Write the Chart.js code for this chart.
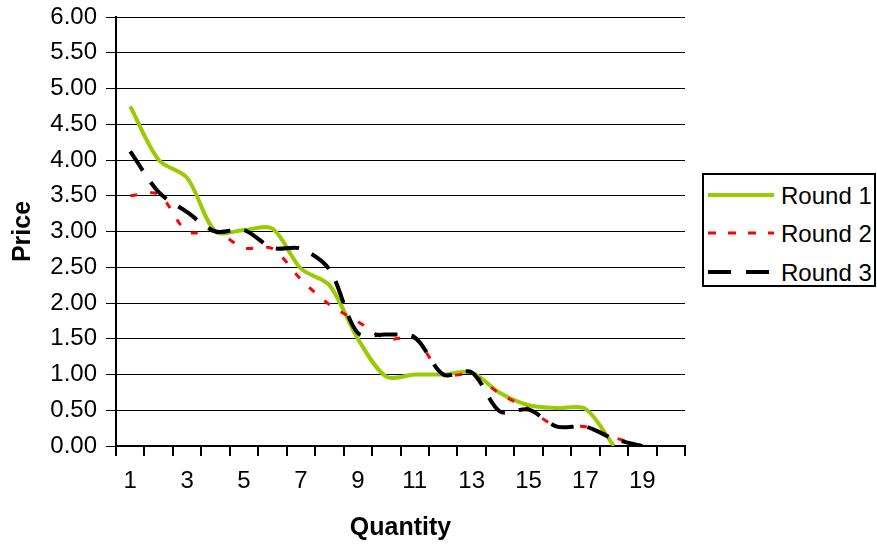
<!DOCTYPE html>
<html>
<head>
<meta charset="utf-8">
<script src="https://cdn.jsdelivr.net/npm/chart.js@4/dist/chart.umd.min.js"></script>
<style>
html,body{margin:0;padding:0;background:#fff;}
#wrap{position:relative;width:877px;height:549px;overflow:hidden;}
#legend{position:absolute;left:702px;top:173px;width:170px;height:110px;border:2px solid #000;background:#fff;font-family:"Liberation Sans",Arial,sans-serif;font-size:24px;color:#000;}
.lg-line{position:absolute;left:4px;width:66px;height:10px;}
.lg-text{position:absolute;left:77px;height:28px;line-height:28px;white-space:nowrap;}
</style>
</head>
<body>
<div id="wrap">
  <canvas id="c" width="877" height="549"></canvas>
  <div id="legend"></div>
</div>
<script>
// ---- data ----
const quantities = ['1','2','3','4','5','6','7','8','9','10','11','12','13','14','15','16','17','18','19','20'];
const round1 = [4.75, 4.00, 3.75, 3.00, 3.02, 3.04, 2.48, 2.25, 1.50, 0.97, 1.00, 1.00, 1.03, 0.74, 0.57, 0.53, 0.52, 0.00];
const round2 = [3.50, 3.52, 3.00, 3.00, 2.77, 2.76, 2.33, 1.98, 1.74, 1.50, 1.50, 1.00, 1.00, 0.73, 0.52, 0.27, 0.27, 0.12, 0.00];
const round3 = [4.12, 3.55, 3.27, 3.00, 3.02, 2.77, 2.76, 2.47, 1.58, 1.56, 1.52, 1.00, 1.03, 0.48, 0.51, 0.27, 0.27, 0.10, 0.00];
const seriesNames = ['Round 1', 'Round 2', 'Round 3'];
const xTitle = 'Quantity';
const yTitle = 'Price';

const FONT = '"Liberation Sans", Arial, sans-serif';
const styles = [
  {color:'#99CC00', width:4, dash:[]},
  {color:'#FF0000', width:3, dash:[7,13]},
  {color:'#000000', width:4, dash:[23,14]}
];
const seriesData = [round1, round2, round3];

const datasets = seriesData.map((d,i)=>({
  label: seriesNames[i],
  data: d,
  borderColor: styles[i].color,
  backgroundColor: styles[i].color,
  borderWidth: styles[i].width,
  borderDash: styles[i].dash,
  pointRadius: 0,
  pointHoverRadius: 0,
  tension: 0.3,
  fill: false,
  borderCapStyle: 'butt'
}));
datasets[0].order = 3; datasets[1].order = 2; datasets[2].order = 1;

const lastTick = {
  id: 'lastTick',
  afterDraw(chart){
    const a = chart.chartArea, ctx = chart.ctx;
    ctx.save();
    ctx.strokeStyle = '#000'; ctx.lineWidth = 2;
    ctx.beginPath();
    ctx.moveTo(a.right, a.bottom); ctx.lineTo(a.right, a.bottom + 10);
    ctx.stroke();
    ctx.restore();
  }
};

new Chart(document.getElementById('c'), {
  type: 'line',
  data: { labels: quantities, datasets },
  plugins: [lastTick],
  options: {
    responsive: false,
    animation: false,
    devicePixelRatio: 1,
    layout: { padding: { left: 0, right: 192, top: 17, bottom: 0 } },
    plugins: { legend: { display: false }, tooltip: { enabled: false } },
    scales: {
      x: {
        type: 'category',
        offset: true,
        grid: { display: true, offset: true, drawOnChartArea: false, drawTicks: true, tickLength: 10, color: '#000', lineWidth: 2 },
        border: { display: true, color: '#000', width: 2 },
        ticks: {
          autoSkip: false, maxRotation: 0, minRotation: 0, padding: 11,
          color: '#000', font: { family: FONT, size: 24 },
          callback: function(v, i){ return (i % 2 === 0) ? quantities[i] : ''; }
        },
        title: { display: true, text: xTitle, color: '#000', font: { family: FONT, size: 25, weight: 'bold' }, padding: { top: 4, bottom: 6 } },
        afterFit(scale){ scale.height = 103; }
      },
      y: {
        min: 0, max: 6,
        grid: { display: true, color: '#000', lineWidth: 1, tickLength: 10, drawTicks: true },
        border: { display: true, color: '#000', width: 2 },
        ticks: {
          stepSize: 0.5, autoSkip: false, padding: 9, color: '#000',
          font: { family: FONT, size: 24, lineHeight: 0.6 },
          callback: v => Number(v).toFixed(2)
        },
        title: { display: true, text: yTitle, color: '#000', font: { family: FONT, size: 25, weight: 'bold' }, padding: { top: 8, bottom: 0 } },
        afterFit(scale){ scale.width = 116; }
      }
    }
  }
});

const lg = document.getElementById('legend');
const rowCenters = [20, 58, 97];
seriesNames.forEach((name,i)=>{
  const s = styles[i];
  const svgNS = 'http://www.w3.org/2000/svg';
  const svg = document.createElementNS(svgNS,'svg');
  svg.setAttribute('class','lg-line');
  svg.setAttribute('width','66'); svg.setAttribute('height','10');
  svg.style.top = (rowCenters[i]-5)+'px';
  const ln = document.createElementNS(svgNS,'line');
  ln.setAttribute('x1','0'); ln.setAttribute('x2','66');
  ln.setAttribute('y1','5'); ln.setAttribute('y2','5');
  ln.setAttribute('stroke', s.color);
  ln.setAttribute('stroke-width', s.width);
  if (s.dash.length) ln.setAttribute('stroke-dasharray', i===1 ? '8 12' : '23 15');
  svg.appendChild(ln);
  lg.appendChild(svg);
  const t = document.createElement('div');
  t.className = 'lg-text';
  t.style.top = (rowCenters[i]-13)+'px';
  t.textContent = name;
  lg.appendChild(t);
});
</script>
</body>
</html>
